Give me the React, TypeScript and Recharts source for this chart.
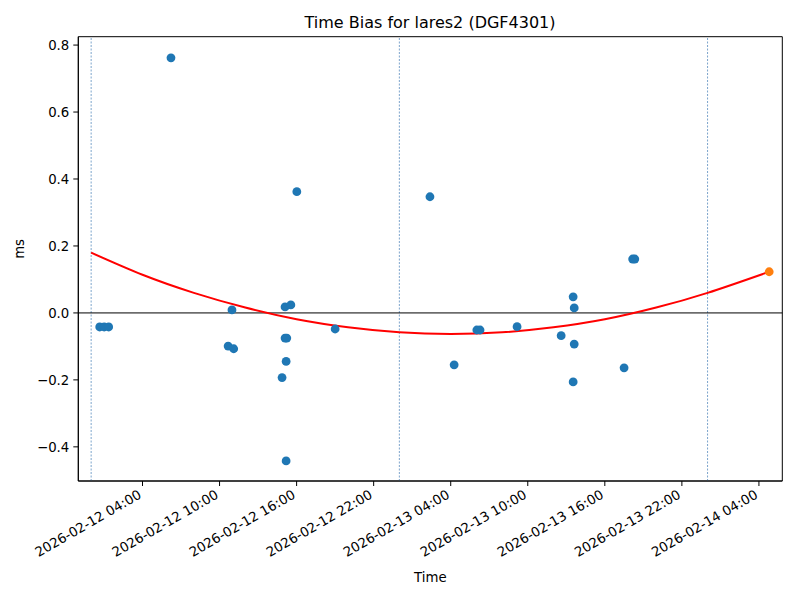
import React from 'react'
import {
  ComposedChart,
  Line,
  Scatter,
  XAxis,
  YAxis,
  ReferenceLine,
  ReferenceArea
} from 'recharts'

// observed time bias per pass (ms)
const passTimes = [
  '2026-02-12 00:40', '2026-02-12 01:01', '2026-02-12 01:22', '2026-02-12 06:13',
  '2026-02-12 10:40', '2026-02-12 10:58', '2026-02-12 11:06', '2026-02-12 14:52',
  '2026-02-12 15:06', '2026-02-12 15:06', '2026-02-12 15:14', '2026-02-12 15:11',
  '2026-02-12 15:11', '2026-02-12 15:33', '2026-02-12 16:01', '2026-02-12 19:00',
  '2026-02-13 02:23', '2026-02-13 04:16', '2026-02-13 06:02', '2026-02-13 06:17',
  '2026-02-13 09:10', '2026-02-13 12:36', '2026-02-13 13:32', '2026-02-13 13:37',
  '2026-02-13 13:37', '2026-02-13 13:32', '2026-02-13 17:30', '2026-02-13 18:10',
  '2026-02-13 18:20'
]
const biasValues = [
  -0.042, -0.042, -0.042, 0.762,
  -0.099, 0.009, -0.107, -0.193,
  0.018, -0.075, -0.075, -0.145,
  -0.442, 0.024, 0.362, -0.048,
  0.347, -0.155, -0.051, -0.051,
  -0.041, -0.068, 0.048, 0.015,
  -0.093, -0.206, -0.164, 0.161,
  0.161
]

// predicted value (orange)
const predTimes = ['2026-02-14 04:48']
const predValues = [0.123]

// red fit curve
const fitTimes = [
  '2026-02-12 00:00', '2026-02-12 04:00', '2026-02-12 08:00', '2026-02-12 12:00',
  '2026-02-12 16:00', '2026-02-12 20:00', '2026-02-13 00:00', '2026-02-13 04:00',
  '2026-02-13 08:00', '2026-02-13 12:00', '2026-02-13 16:00', '2026-02-13 20:00',
  '2026-02-14 00:00', '2026-02-14 04:48'
]
const fitValues = [
  0.180, 0.114, 0.060, 0.016,
  -0.019, -0.043, -0.058, -0.063,
  -0.058, -0.043, -0.019, 0.016,
  0.060, 0.123
]

const xTickLabels = [
  '2026-02-12 04:00', '2026-02-12 10:00', '2026-02-12 16:00', '2026-02-12 22:00',
  '2026-02-13 04:00', '2026-02-13 10:00', '2026-02-13 16:00', '2026-02-13 22:00',
  '2026-02-14 04:00'
]
const yTicks = [-0.4, -0.2, 0.0, 0.2, 0.4, 0.6, 0.8]
const dayLines = ['2026-02-12 00:00', '2026-02-13 00:00', '2026-02-14 00:00']

const toMs = (s: string) => Date.parse(s.replace(' ', 'T') + ':00Z')
const fmtTime = (ms: number) => new Date(ms).toISOString().slice(0, 16).replace('T', ' ')
const fmtY = (v: number) => v.toFixed(1).replace('-', '\u2212')

const HOUR = 3600 * 1000
const xMin = toMs('2026-02-12 00:00') - 1.0 * HOUR
const xMax = toMs('2026-02-12 00:00') + 53.82 * HOUR
const yMin = -0.502
const yMax = 0.825

const scatterData = passTimes.map((t, i) => ({ t: toMs(t), v: biasValues[i] }))
const predData = predTimes.map((t, i) => ({ t: toMs(t), v: predValues[i] }))
const fitData = fitTimes.map((t, i) => ({ t: toMs(t), v: fitValues[i] }))

const FONT = '"DejaVu Sans", sans-serif'

function XTick(props: any) {
  const { x, y, payload } = props
  return (
    <g transform={`translate(${x - 5},${y})`}>
      <text x={0} y={0} dy="0.72em" textAnchor="end" transform="rotate(-30)" fill="#000" fontSize={13.3} fontFamily={FONT}>
        {fmtTime(payload.value)}
      </text>
    </g>
  )
}

const dot = (color: string) => (p: any) => <circle cx={p.cx} cy={p.cy} r={4.4} fill={color} />

export default function App() {
  return (
    <div style={{ position: 'absolute', left: 0, top: 0, width: 800, height: 600, background: '#fff', fontFamily: FONT }}>
      <div style={{ position: 'absolute', left: 78, width: 704, top: 14, textAlign: 'center', fontSize: 16, lineHeight: '18px', color: '#000' }}>
        Time Bias for lares2 (DGF4301)
      </div>
      <ComposedChart width={800} height={600} margin={{ top: 36.7, right: 17.7, bottom: 19, left: 0 }}>
        <XAxis
          type="number"
          dataKey="t"
          domain={[xMin, xMax]}
          allowDataOverflow
          ticks={xTickLabels.map(toMs)}
          interval={0}
          tick={<XTick />}
          tickSize={5}
          tickMargin={3}
          height={100}
          axisLine={{ stroke: '#000' }}
          tickLine={{ stroke: '#000' }}
          label={{ value: 'Time', position: 'insideBottom', offset: -1, fill: '#000', fontSize: 13.3, fontFamily: FONT }}
        />
        <YAxis
          type="number"
          domain={[yMin, yMax]}
          allowDataOverflow
          ticks={yTicks}
          interval={0}
          tickFormatter={fmtY}
          width={78.3}
          tickSize={5}
          tickMargin={4}
          axisLine={{ stroke: '#000' }}
          tickLine={{ stroke: '#000' }}
          tick={{ fill: '#000', fontSize: 13.3, fontFamily: FONT }}
          label={{ value: 'ms', angle: -90, position: 'insideLeft', offset: 19, fill: '#000', fontSize: 13.3, fontFamily: FONT }}
        />
        {dayLines.map(d => (
          <ReferenceLine key={d} x={toMs(d)} stroke="#5a8dbf" strokeWidth={0.8} strokeDasharray="2 1.5" />
        ))}
        <ReferenceLine y={0} stroke="#000" strokeWidth={1} />
        <Line data={fitData} dataKey="v" type="natural" stroke="#ff0000" strokeWidth={2} dot={false} isAnimationActive={false} />
        <Scatter data={scatterData} dataKey="v" shape={dot('#1f77b4')} isAnimationActive={false} />
        <Scatter data={predData} dataKey="v" shape={dot('#ff7f0e')} isAnimationActive={false} />
        <ReferenceArea x1={xMin} x2={xMax} y1={yMin} y2={yMax} fill="none" stroke="#000" strokeWidth={1} ifOverflow="visible" />
      </ComposedChart>
    </div>
  )
}
